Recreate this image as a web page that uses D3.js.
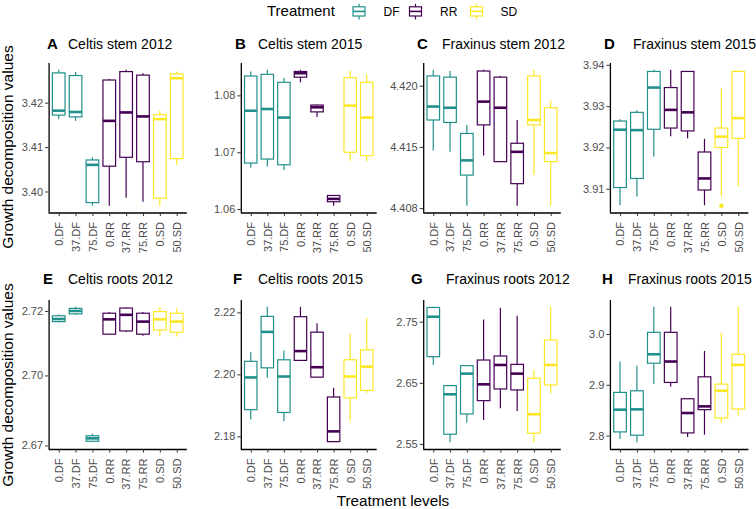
<!DOCTYPE html>
<html>
<head>
<meta charset="utf-8">
<script src="https://cdn.jsdelivr.net/npm/d3@7"></script>
<style>
  html, body { margin: 0; padding: 0; background: #fff; }
  svg { display: block; font-family: "Liberation Sans", Arial, sans-serif; }
</style>
</head>
<body>
<svg id="chart" width="756" height="509"></svg>
<script>
// ---------------- DATA ----------------
const categories = ["0.DF","37.DF","75.DF","0.RR","37.RR","75.RR","0.SD","50.SD"];
const treatments = ["DF","RR","SD"];
const treatmentColors = ["#21908C","#440154","#FDE725"];

// each row: [lower whisker, Q1, median, Q3, upper whisker]
const celtisStem2012 = [
  [3.4163,3.4172,3.4182,3.4267,3.4274],
  [3.4159,3.4168,3.4179,3.4261,3.4269],
  [3.3968,3.3975,3.4060,3.4071,3.4077],
  [3.3968,3.4057,3.4159,3.4251,3.4253],
  [3.3986,3.4077,3.4178,3.4270,3.4274],
  [3.3977,3.4067,3.4169,3.4262,3.4266],
  [3.3968,3.3985,3.4163,3.4173,3.4182],
  [3.4060,3.4074,3.4255,3.4265,3.4270]
];
const celtisStem2015 = [
  [1.0673,1.0681,1.0773,1.0834,1.0842],
  [1.0675,1.0688,1.0776,1.0837,1.0845],
  [1.0669,1.0678,1.0761,1.0823,1.0831],
  [1.0823,1.0832,1.0839,1.0842,1.0845],
  [1.0762,1.0771,1.0779,1.0783,1.0784],
  [1.0606,1.0613,1.0618,1.0624,1.0625],
  [1.0685,1.0700,1.0782,1.0831,1.0844],
  [1.0684,1.0694,1.0761,1.0823,1.0837]
];
const fraxinusStem2012 = [
  [4.4147,4.4172,4.4183,4.4208,4.4213],
  [4.4146,4.4170,4.4182,4.4207,4.4212],
  [4.4102,4.4127,4.4139,4.4161,4.4168],
  [4.4143,4.4168,4.4187,4.4212,4.4213],
  [4.4138,4.4138,4.4182,4.4207,4.4208],
  [4.4102,4.4120,4.4146,4.4153,4.4172],
  [4.4127,4.4168,4.4172,4.4208,4.4213],
  [4.4102,4.4138,4.4145,4.4182,4.4188]
];
const fraxinusStem2015 = [
  [3.9060,3.9103,3.9243,3.9264,3.9268],
  [3.9081,3.9125,3.9242,3.9285,3.9290],
  [3.9178,3.9244,3.9345,3.9384,3.9388],
  [3.9227,3.9247,3.9291,3.9345,3.9388],
  [3.9222,3.9240,3.9285,3.9384,3.9384],
  [3.9060,3.9097,3.9125,3.9189,3.9221],
  [3.9081,3.9200,3.9226,3.9247,3.9343],
  [3.9106,3.9222,3.9271,3.9384,3.9388]
];
const celtisRoots2012 = [
  [2.7164,2.7167,2.7175,2.7185,2.7189],
  [2.7188,2.7191,2.7200,2.7208,2.7213],
  [2.6793,2.6796,2.6805,2.6813,2.6819],
  [2.7126,2.7128,2.7174,2.7193,2.7197],
  [2.7135,2.7138,2.7188,2.7209,2.7211],
  [2.7123,2.7128,2.7167,2.7193,2.7197],
  [2.7123,2.7141,2.7174,2.7198,2.7213],
  [2.7121,2.7134,2.7167,2.7193,2.7208]
];
const celtisRoots2015 = [
  [2.1854,2.1886,2.1990,2.2042,2.2071],
  [2.1989,2.2021,2.2137,2.2187,2.2218],
  [2.1849,2.1877,2.1993,2.2047,2.2077],
  [2.2045,2.2045,2.2075,2.2186,2.2218],
  [2.1989,2.1991,2.2023,2.2136,2.2165],
  [2.1781,2.1783,2.1816,2.1927,2.1957],
  [2.1851,2.1924,2.1993,2.2047,2.2132],
  [2.1940,2.1948,2.2025,2.2079,2.2182]
];
const fraxinusRoots2012 = [
  [2.6792,2.6928,2.7582,2.7734,2.7745],
  [2.5527,2.5658,2.6312,2.6454,2.6465],
  [2.5849,2.5990,2.6650,2.6781,2.6792],
  [2.5892,2.6208,2.6475,2.6873,2.7538],
  [2.6083,2.6399,2.6792,2.6939,2.7729],
  [2.6040,2.6383,2.6650,2.6802,2.7598],
  [2.5527,2.5674,2.5985,2.6574,2.6710],
  [2.6328,2.6465,2.6792,2.7200,2.7745]
];
const fraxinusRoots2015 = [
  [2.7935,2.8072,2.8510,2.8850,2.9458],
  [2.7869,2.8007,2.8516,2.8882,2.9373],
  [2.9013,2.9425,2.9601,3.0033,3.0536],
  [2.8967,2.9046,2.9458,3.0033,3.0536],
  [2.7974,2.8052,2.8444,2.8725,2.8725],
  [2.8020,2.8510,2.8575,2.9157,2.9667],
  [2.8248,2.8346,2.8882,2.9013,3.0026],
  [2.8392,2.8523,2.9392,2.9601,3.0536]
];
// outliers: [category, value]
const fraxinusStem2015Outliers = [["0.SD", 3.9059]];

const panelLetters = ["A","B","C","D","E","F","G","H"];
const panelTitles = ["Celtis stem 2012","Celtis stem 2015","Fraxinus stem 2012","Fraxinus stem 2015",
                     "Celtis roots 2012","Celtis roots 2015","Fraxinus roots 2012","Fraxinus roots 2015"];
const panelStats = [celtisStem2012, celtisStem2015, fraxinusStem2012, fraxinusStem2015,
                    celtisRoots2012, celtisRoots2015, fraxinusRoots2012, fraxinusRoots2015];
const panelOutliers = [[],[],[],fraxinusStem2015Outliers,[],[],[],[]];
const tickValues = [
  [3.40,3.41,3.42],[1.06,1.07,1.08],[4.410,4.415,4.420],[3.91,3.92,3.93,3.94],
  [2.6783,2.70,2.72],[2.18,2.20,2.22],[2.55,2.65,2.75],[2.8,2.9,3.0]
];
const tickLabels = [
  ["3.40","3.41","3.42"],["1.06","1.07","1.08"],["4.408","4.415","4.420"],["3.91","3.92","3.93","3.94"],
  ["2.67","2.70","2.72"],["2.18","2.20","2.22"],["2.55","2.65","2.75"],["2.8","2.9","3.0"]
];
const legendTitle = "Treatment";
const yAxisTitle = "Growth decomposition values";
const xAxisTitle = "Treatment levels";

// ---------------- LAYOUT ----------------
const colX = [[48.6,186.8],[240.8,376.7],[423.2,560.8],[609.9,748.4]];
const rowY = [[63,212.5],[300,449]];
const titleBase = [49,283.5];
const letterX = [47,235,417,604,43,233,411,602];
const titleX = [68,258,442,633,68,258,446,628];

const svg = d3.select("#chart");
const color = d3.scaleOrdinal().domain(treatments).range(treatmentColors);
const catColor = c => color(c.split(".")[1]);

panelStats.forEach((stats, i) => {
  const row = Math.floor(i / 4), col = i % 4;
  const [x0, x1] = colX[col];
  const [y0, y1] = rowY[row];
  const outl = panelOutliers[i];
  const allVals = stats.flat().concat(outl.map(o => o[1]));
  const mn = d3.min(allVals), mx = d3.max(allVals), pad = (mx - mn) * 0.05;

  const x = d3.scalePoint().domain(categories).range([x0, x1]).padding(0.6);
  const y = d3.scaleLinear().domain([mn - pad, mx + pad]).range([y1, y0]);
  const bw = x.step() * 0.75;

  const g = svg.append("g");

  // boxes
  const box = g.selectAll("g.box").data(stats).join("g").attr("class","box");
  box.each(function(s, j) {
    const cat = categories[j];
    const cx = x(cat);
    const c = catColor(cat);
    const b = d3.select(this);
    b.append("line").attr("x1",cx).attr("x2",cx).attr("y1",y(s[4])).attr("y2",y(s[3]))
      .attr("stroke",c).attr("stroke-width",1.2);
    b.append("line").attr("x1",cx).attr("x2",cx).attr("y1",y(s[1])).attr("y2",y(s[0]))
      .attr("stroke",c).attr("stroke-width",1.2);
    b.append("rect").attr("x",cx - bw/2).attr("width",bw)
      .attr("y",y(s[3])).attr("height",Math.max(0.1, y(s[1]) - y(s[3])))
      .attr("fill","#fff").attr("stroke",c).attr("stroke-width",1.2);
    b.append("line").attr("x1",cx - bw/2).attr("x2",cx + bw/2).attr("y1",y(s[2])).attr("y2",y(s[2]))
      .attr("stroke",c).attr("stroke-width",2.6);
  });

  g.selectAll("circle.out").data(outl).join("circle").attr("class","out")
    .attr("cx", d => x(d[0])).attr("cy", d => y(d[1])).attr("r", 2.3)
    .attr("fill", d => catColor(d[0]));

  // axes
  const yAxis = d3.axisLeft(y).tickValues(tickValues[i])
    .tickFormat((d, k) => tickLabels[i][k]).tickSize(3.5).tickSizeOuter(0).tickPadding(2);
  const ya = g.append("g").attr("transform", `translate(${x0},0)`).call(yAxis);
  ya.select(".domain").attr("stroke","#000").attr("stroke-width",1.3)
    .attr("d", `M0.5,${y0}V${y1}`);
  ya.selectAll(".tick line").attr("stroke","#333").attr("stroke-width",1);
  ya.selectAll(".tick text").attr("fill","#4D4D4D").style("font-size","11px");

  const xAxis = d3.axisBottom(x).tickSize(3.5).tickSizeOuter(0).tickPadding(2);
  const xa = g.append("g").attr("transform", `translate(0,${y1})`).call(xAxis);
  xa.select(".domain").attr("stroke","#000").attr("stroke-width",1.3)
    .attr("d", `M${x0},0.5H${x1}`);
  xa.selectAll(".tick line").attr("stroke","#333").attr("stroke-width",1);
  xa.selectAll(".tick text").attr("fill","#4D4D4D").style("font-size","11px")
    .attr("transform","rotate(-90)").attr("text-anchor","end")
    .attr("x",-9.5).attr("y",0).attr("dy","0.35em");

  // titles
  g.append("text").attr("x", letterX[i]).attr("y", titleBase[row])
    .style("font-size","15px").style("font-weight","bold").attr("fill","#000").text(panelLetters[i]);
  g.append("text").attr("x", titleX[i]).attr("y", titleBase[row])
    .style("font-size","14px").attr("fill","#000").text(panelTitles[i]);
});

// y axis titles
[147, 385].forEach(cy => {
  svg.append("text").attr("transform", `translate(13,${cy}) rotate(-90)`)
    .attr("text-anchor","middle").style("font-size","15.5px").attr("fill","#000").text(yAxisTitle);
});
// x axis title
svg.append("text").attr("x",393).attr("y",506).attr("text-anchor","middle")
  .style("font-size","15.3px").attr("fill","#000").text(xAxisTitle);

// legend
const lg = svg.append("g");
lg.append("text").attr("x",267).attr("y",16).style("font-size","15px").attr("fill","#000").text(legendTitle);
const keyX = [353, 409.5, 470.5];
const labX = [383.5, 440, 500.5];
treatments.forEach((t, k) => {
  const c = color(t), kx = keyX[k], cx = kx + 6;
  lg.append("line").attr("x1",cx).attr("x2",cx).attr("y1",3.8).attr("y2",19.5).attr("stroke",c).attr("stroke-width",1.2);
  lg.append("rect").attr("x",kx).attr("y",6.8).attr("width",12).attr("height",9.2)
    .attr("fill","#fff").attr("stroke",c).attr("stroke-width",1.2);
  lg.append("line").attr("x1",kx).attr("x2",kx+12).attr("y1",11.4).attr("y2",11.4).attr("stroke",c).attr("stroke-width",1.6);
  lg.append("text").attr("x",labX[k]).attr("y",15.7).style("font-size","12px").attr("fill","#000").text(t);
});
</script>
</body>
</html>
